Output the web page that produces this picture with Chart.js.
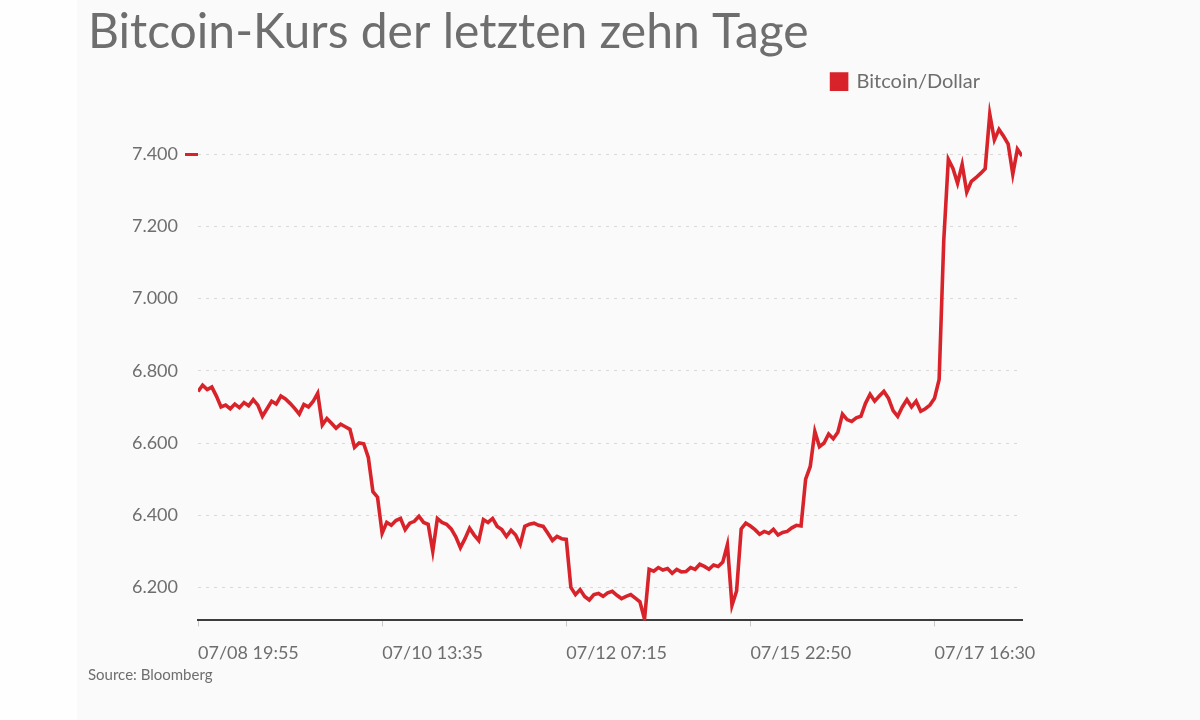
<!DOCTYPE html>
<html>
<head>
<meta charset="utf-8">
<script src="https://cdn.jsdelivr.net/npm/chart.js@4.4.0/dist/chart.umd.min.js"></script>
<style>
  html, body { margin: 0; padding: 0; background: #fefefe; }
  #wrap { position: absolute; left: 77px; top: 0; width: 1123px; height: 720px; background: #fafafa; }
  #bitcoinChart { position: absolute; left: -77px; top: 0; }
</style>
</head>
<body>
<div id="wrap"><canvas id="bitcoinChart" width="1200" height="720"></canvas></div>
<script>
// tick labels under the x axis, every 40th sample
const xTickLabels = ['07/08 19:55', '07/10 13:35', '07/12 07:15', '07/15 22:50', '07/17 16:30'];
const xTickIndex = [0, 40, 80, 120, 160];
const yTickValues = [6200, 6400, 6600, 6800, 7000, 7200, 7400];

// Bitcoin/Dollar
const prices = [
    6743, 6760, 6748, 6755, 6730, 6700, 6705, 6695, 6708, 6698,
    6712, 6703, 6720, 6705, 6674, 6695, 6716, 6708, 6730, 6722,
    6710, 6696, 6680, 6707, 6700, 6715, 6738, 6650, 6668, 6655,
    6641, 6652, 6645, 6638, 6588, 6600, 6598, 6560, 6465, 6450,
    6350, 6380, 6372, 6385, 6391, 6360, 6378, 6383, 6397, 6380,
    6375, 6300, 6391, 6380, 6375, 6362, 6340, 6310, 6335, 6364,
    6345, 6330, 6388, 6380, 6391, 6369, 6360, 6341, 6358, 6345,
    6319, 6369, 6375, 6378, 6372, 6369, 6350, 6330, 6341, 6335,
    6333, 6200, 6180, 6194, 6175, 6165, 6180, 6183, 6175, 6185,
    6189, 6178, 6169, 6175, 6180, 6170, 6160, 6112, 6250, 6245,
    6255, 6248, 6252, 6239, 6250, 6243, 6244, 6255, 6250, 6264,
    6258, 6250, 6262, 6258, 6270, 6318, 6150, 6190, 6362, 6378,
    6370, 6360, 6347, 6355, 6350, 6361, 6345, 6352, 6355, 6365,
    6372, 6370, 6500, 6535, 6632, 6590, 6600, 6625, 6612, 6630,
    6680, 6665, 6660, 6670, 6674, 6710, 6735, 6716, 6730, 6743,
    6724, 6690, 6674, 6700, 6720, 6700, 6716, 6688, 6695, 6705,
    6724, 6776, 7160, 7386, 7361, 7320, 7372, 7295, 7325, 7335,
    7347, 7360, 7511, 7440, 7469, 7450, 7428, 7345, 7414, 7395
];

const red = '#d8232a';
const grey = '#6e6e6e';

function formatDe(v) {
    return String(v).replace(/\B(?=(\d{3})+(?!\d))/g, '.');
}

let chart = new Chart(document.getElementById('bitcoinChart'), {
    type: 'line',
    data: {
        datasets: [{
            label: 'Bitcoin/Dollar',
            data: prices.map((p, i) => ({ x: i, y: p })),
            borderColor: red,
            backgroundColor: red,
            borderWidth: 3.6,
            pointRadius: 0,
            tension: 0
        }]
    },
    options: {
        responsive: false,
        animation: false,
        layout: { padding: { left: 88, right: 178, top: 0, bottom: 0 } },
        plugins: {
            title: {
                display: true,
                text: 'Bitcoin-Kurs der letzten zehn Tage',
                align: 'start',
                color: grey,
                font: { family: 'Lato', size: 48, weight: 'normal' },
                padding: { top: 4, bottom: -32 }
            },
            subtitle: {
                display: true,
                position: 'bottom',
                text: 'Source: Bloomberg',
                align: 'start',
                color: grey,
                font: { family: 'Lato', size: 15 },
                padding: { top: -14, bottom: 36 }
            },
            legend: {
                align: 'end',
                labels: {
                    color: grey,
                    font: { family: 'Lato', size: 20 },
                    boxWidth: 15,
                    boxHeight: 15,
                    padding: 42
                }
            },
            tooltip: { enabled: false }
        },
        scales: {
            x: {
                type: 'linear',
                min: 0,
                max: 179,
                afterBuildTicks: s => { s.ticks = xTickIndex.map(v => ({ value: v })); },
                ticks: {
                    align: 'start',
                    maxRotation: 0,
                    padding: 16,
                    color: grey,
                    font: { family: 'Lato', size: 18 },
                    callback: v => xTickLabels[xTickIndex.indexOf(v)]
                },
                grid: { drawOnChartArea: false, tickLength: 6, color: '#c8c8c8' },
                border: { display: true, color: '#3c3c3c', width: 2 }
            },
            y: {
                min: 6108.5,
                max: 7546,
                afterBuildTicks: s => { s.ticks = yTickValues.map(v => ({ value: v })); },
                afterFit: s => { s.width = 110; },
                ticks: {
                    padding: 7,
                    color: grey,
                    font: { family: 'Lato', size: 18 },
                    callback: v => formatDe(v)
                },
                grid: {
                    color: '#d9d9d9',
                    tickColor: ctx => ctx.tick && ctx.tick.value === 7400 ? red : 'rgba(0,0,0,0)',
                    tickLength: 13,
                    tickWidth: 3,
                    lineWidth: 1
                },
                border: { display: false, dash: [3, 5] }
            }
        }
    }
});
</script>
</body>
</html>
